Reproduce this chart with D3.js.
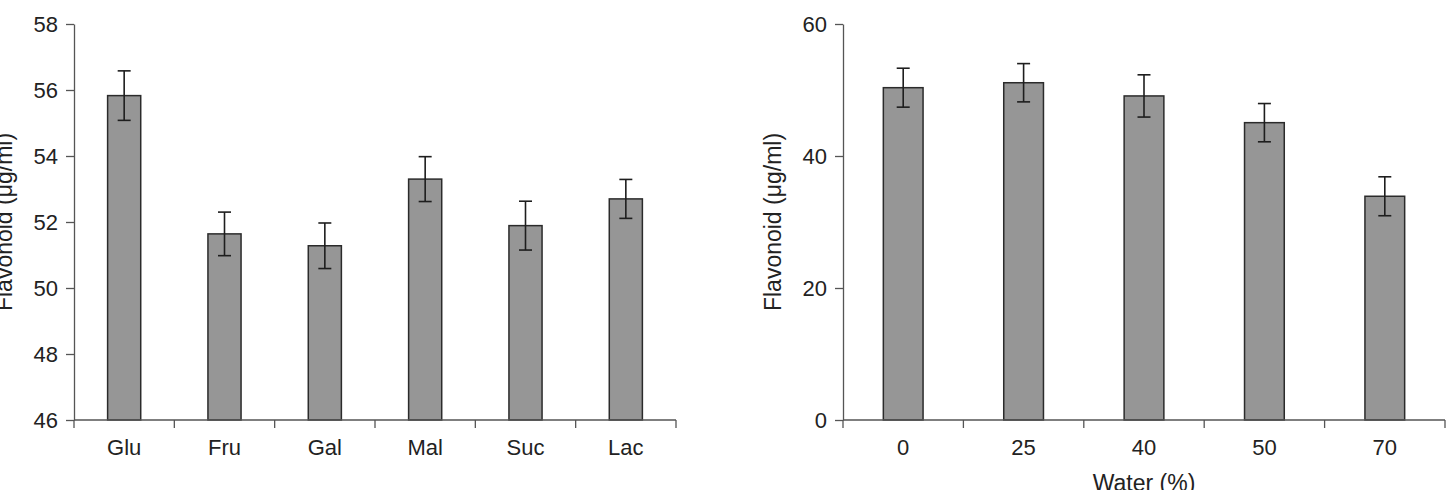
<!DOCTYPE html>
<html>
<head>
<meta charset="utf-8">
<script src="https://cdn.jsdelivr.net/npm/d3@7"></script>
<style>
  body { margin: 0; background: #fff; }
  svg text { font-family: "Liberation Sans", Arial, sans-serif; fill: #222; }
</style>
</head>
<body>
<svg id="chart" width="1452" height="490"></svg>
<script>
// left panel: sugar type
var sugars = ["Glu", "Fru", "Gal", "Mal", "Suc", "Lac"];
var sugarVals = [55.83, 51.64, 51.28, 53.30, 51.89, 52.70];
var sugarErr = [0.75, 0.66, 0.69, 0.68, 0.74, 0.59];
var sugarTicks = [46, 48, 50, 52, 54, 56, 58];

// right panel: water content
var waters = ["0", "25", "40", "50", "70"];
var waterVals = [50.35, 51.1, 49.1, 45.05, 33.9];
var waterErr = [2.95, 2.9, 3.2, 2.9, 2.95];
var waterTicks = [0, 20, 40, 60];

var svg = d3.select("#chart");

function drawPanel(opt)
{
    var g = svg.append("g").attr("transform", "translate(" + opt.left + ",0)");
    var w = opt.width, top = 24, bottom = 420;

    var x = d3.scaleBand().domain(opt.cats).range([0, w])
        .paddingInner(0.67).paddingOuter(0.335);
    var y = d3.scaleLinear().domain(opt.domain).range([bottom, top]);

    // y axis
    var ya = g.append("g").call(d3.axisLeft(y).tickValues(opt.ticks).tickSize(8).tickPadding(8).tickSizeOuter(0));
    ya.selectAll("path, line").attr("stroke", "#555").attr("stroke-width", 1.3);
    ya.selectAll("text").attr("font-size", 22).attr("fill", "#222")
        .style("font-family", "'Liberation Sans', Arial, sans-serif");

    // bars
    var data = opt.cats.map((c, i) => ({c: c, v: opt.vals[i], e: opt.err[i]}));
    g.selectAll("rect.bar").data(data).enter().append("rect").classed("bar", true)
        .attr("x", d => x(d.c))
        .attr("width", x.bandwidth())
        .attr("y", d => y(d.v))
        .attr("height", d => bottom - y(d.v))
        .attr("fill", "#969696")
        .attr("stroke", "#2b2b2b")
        .attr("stroke-width", 1.5);

    // error bars
    var eb = g.selectAll("g.err").data(data).enter().append("g").classed("err", true)
        .attr("stroke", "#1e1e1e").attr("stroke-width", 1.6);
    var cx = d => x(d.c) + x.bandwidth() / 2;
    eb.append("line").attr("x1", cx).attr("x2", cx)
        .attr("y1", d => y(d.v + d.e)).attr("y2", d => y(d.v - d.e));
    eb.append("line").attr("x1", d => cx(d) - 6.5).attr("x2", d => cx(d) + 6.5)
        .attr("y1", d => y(d.v + d.e)).attr("y2", d => y(d.v + d.e));
    eb.append("line").attr("x1", d => cx(d) - 6.5).attr("x2", d => cx(d) + 6.5)
        .attr("y1", d => y(d.v - d.e)).attr("y2", d => y(d.v - d.e));

    // x axis: line, boundary ticks, labels
    g.append("line").attr("x1", 0).attr("x2", w).attr("y1", bottom).attr("y2", bottom)
        .attr("stroke", "#555").attr("stroke-width", 1.3);
    var bounds = d3.range(opt.cats.length + 1).map(i => i * x.step());
    g.selectAll("line.xt").data(bounds).enter().append("line").classed("xt", true)
        .attr("x1", d => d).attr("x2", d => d)
        .attr("y1", bottom).attr("y2", bottom + 8)
        .attr("stroke", "#555").attr("stroke-width", 1.3);
    g.selectAll("text.xl").data(opt.cats).enter().append("text").classed("xl", true)
        .attr("x", d => x(d) + x.bandwidth() / 2)
        .attr("y", 455)
        .attr("text-anchor", "middle")
        .attr("font-size", 22)
        .text(d => d);

    // y title
    g.append("text")
        .attr("transform", "translate(-62," + ((top + bottom) / 2) + ") rotate(-90)")
        .attr("text-anchor", "middle")
        .attr("font-size", 23)
        .text("Flavonoid (\u03bcg/ml)");

    if (opt.xTitle)
        g.append("text").attr("x", w / 2).attr("y", 491)
            .attr("text-anchor", "middle").attr("font-size", 23)
            .text(opt.xTitle);
}

drawPanel({left: 74, width: 602, cats: sugars, vals: sugarVals, err: sugarErr,
    domain: [46, 58], ticks: sugarTicks});
drawPanel({left: 843, width: 602, cats: waters, vals: waterVals, err: waterErr,
    domain: [0, 60], ticks: waterTicks, xTitle: "Water (%)"});
</script>
</body>
</html>
